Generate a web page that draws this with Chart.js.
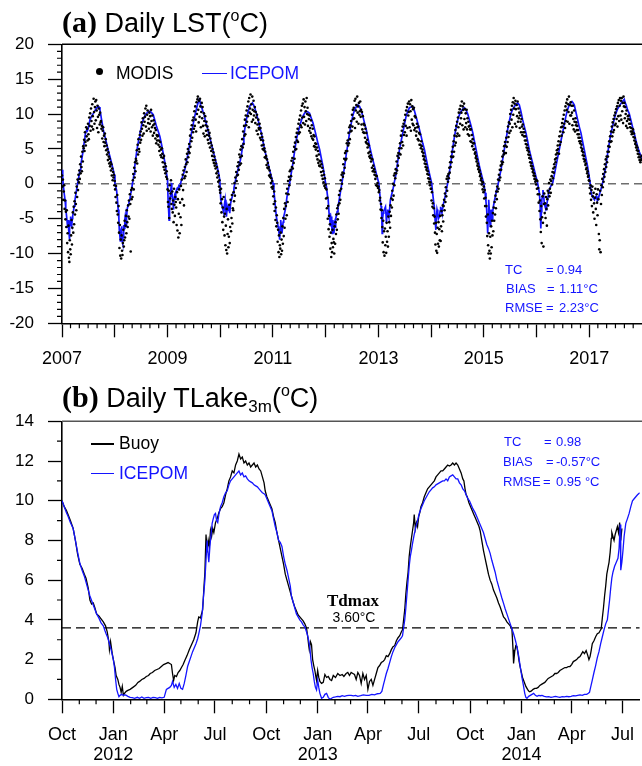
<!DOCTYPE html>
<html>
<head>
<meta charset="utf-8">
<script src="https://cdn.jsdelivr.net/npm/chart.js@4.4.1/dist/chart.umd.min.js"></script>
<style>
html, body { margin: 0; padding: 0; background: #fff; overflow: hidden; }
#page { position: relative; width: 642px; height: 766px; overflow: hidden; font-family: "Liberation Sans", Arial, Helvetica, sans-serif; }
.box { position: absolute; left: 0; width: 646px; }
.txt { position: absolute; white-space: nowrap; line-height: 1; color: #000; z-index: 2; }
.blue { color: #1414ff; }
.title { font-size: 27px; line-height: 30px; }
.title b { font-family: "Liberation Serif", "Times New Roman", serif; font-size: 30px; }
.deg { font-size: 16px; position: relative; top: -11px; }
.sub { font-size: 17px; position: relative; top: 5px; }
.leg { font-size: 17.5px; }
.st { font-size: 13px; }
.mark { position: absolute; z-index: 2; }
</style>
</head>
<body>
<div id="page">
  <div class="box" style="top:0;height:380px"><canvas id="lstChart" width="646" height="380"></canvas></div>
  <div class="box" style="top:380px;height:386px"><canvas id="lakeChart" width="646" height="386"></canvas></div>

  <!-- panel (a) texts -->
  <div class="txt title" style="left:62px;top:7px"><b>(a)</b> Daily LST(<span class="deg">o</span>C)</div>
  <div class="mark" style="left:96px;top:68px;width:7px;height:7px;border-radius:50%;background:#000"></div>
  <div class="txt leg" style="left:116px;top:64.5px">MODIS</div>
  <div class="mark" style="left:202px;top:72.5px;width:25px;height:1.5px;background:#1414ff"></div>
  <div class="txt leg blue" style="left:230px;top:64.5px">ICEPOM</div>

  <div class="txt st blue" style="left:505px;top:262.6px">TC</div>
  <div class="txt st blue" style="left:546px;top:262.6px">=</div>
  <div class="txt st blue" style="left:557px;top:262.6px">0.94</div>
  <div class="txt st blue" style="left:506px;top:281.9px">BIAS</div>
  <div class="txt st blue" style="left:547px;top:281.9px">=</div>
  <div class="txt st blue" style="left:559px;top:281.9px">1.11°C</div>
  <div class="txt st blue" style="left:505px;top:301.1px">RMSE</div>
  <div class="txt st blue" style="left:546px;top:301.1px">=</div>
  <div class="txt st blue" style="left:559px;top:301.1px">2.23°C</div>

  <!-- panel (b) texts -->
  <div class="txt title" style="left:62px;top:382px"><b>(b)</b> Daily TLake<span class="sub">3m</span>(<span class="deg">o</span>C)</div>
  <div class="mark" style="left:91px;top:443.3px;width:23px;height:1.5px;background:#000"></div>
  <div class="txt leg" style="left:119px;top:435.4px">Buoy</div>
  <div class="mark" style="left:91px;top:472.5px;width:23px;height:1.5px;background:#1414ff"></div>
  <div class="txt leg blue" style="left:119px;top:464.7px">ICEPOM</div>

  <div class="txt st blue" style="left:504px;top:435.3px">TC</div>
  <div class="txt st blue" style="left:544px;top:435.3px">=</div>
  <div class="txt st blue" style="left:556px;top:435.3px">0.98</div>
  <div class="txt st blue" style="left:503px;top:455.3px">BIAS</div>
  <div class="txt st blue" style="left:546px;top:455.3px">=</div>
  <div class="txt st blue" style="left:556px;top:455.3px">-0.57°C</div>
  <div class="txt st blue" style="left:503px;top:475.3px">RMSE</div>
  <div class="txt st blue" style="left:543px;top:475.3px">=</div>
  <div class="txt st blue" style="left:556px;top:475.3px">0.95 °C</div>

  <div class="txt" style="left:303px;width:100px;text-align:center;top:591.5px;font-family:'Liberation Serif','Times New Roman',serif;font-weight:bold;font-size:17px">Tdmax</div>
  <div class="txt" style="left:304px;width:100px;text-align:center;top:609.8px;font-size:14px">3.60°C</div>
</div>

<script>
// ---------- panel (a): daily lake surface temperature, 2007-2017 ----------
const lstYears = [2007, 2008, 2009, 2010, 2011, 2012, 2013, 2014, 2015, 2016, 2017];
const lstLabelYears = [2007, 2009, 2011, 2013, 2015, 2017];
const lstTicksY = [-20, -15, -10, -5, 0, 5, 10, 15, 20];
const lstZero = 0;

// ICEPOM simulated LST: [days since 2007-01-01, degC]
const icepomLst = [
  [0,2.0],[5,0.8],[10,-0.4],[16,-1.5],[21,-2.3],[26,-3.5],[32,-4.7],[37,-5.8],[41,-6.3],[44,-5.2],[46,-6.6],[49,-7.2],[51,-8.0],[54,-6.0],[57,-5.4],[60,-4.7],[63,-5.9],[67,-6.1],[71,-5.0],[74,-4.6],[78,-4.2],[84,-3.2],[90,-2.3],[96,-1.5],[101,-0.9],[107,-0.1],[113,0.6],[119,1.3],[125,2.0],[130,2.8],[136,3.4],[142,4.2],[148,4.9],[154,6.0],[159,6.8],[165,7.4],[171,7.75],[176,7.6],[182,8.0],[188,8.6],[194,9.2],[205,9.7],[217,10.1],[228,10.5],[240,10.9],[246,11.0],[251,11.1],[257,11.0],[263,10.6],[268,10.0],[274,9.2],[280,8.5],[286,7.75],[297,6.8],[309,5.8],[320,4.8],[332,3.9],[343,3.0],[355,2.0],[362,1.3],
  [367,0.1],[372,-0.4],[378,-0.9],[384,-2.2],[389,-3.7],[394,-5.0],[397,-6.6],[401,-7.5],[404,-8.2],[406,-8.0],[409,-6.8],[412,-6.1],[415,-7.0],[418,-8.3],[420,-8.5],[423,-7.6],[426,-7.1],[429,-5.9],[432,-6.4],[435,-5.2],[438,-4.7],[441,-5.5],[444,-6.1],[447,-5.0],[451,-3.7],[458,-3.0],[464,-2.6],[470,-2.3],[476,-1.4],[482,-0.9],[487,-0.1],[493,0.6],[499,1.4],[504,2.5],[510,3.4],[516,4.4],[522,5.2],[528,5.9],[534,6.6],[540,7.3],[546,7.8],[552,8.5],[557,8.8],[563,9.2],[575,9.8],[586,10.1],[597,10.3],[609,10.4],[620,10.2],[632,9.9],[643,9.1],[655,8.2],[667,7.5],[678,6.8],[690,5.6],[701,4.4],[709,3.5],[717,2.5],[724,1.5],[731,0.6],
  [735,-2.3],[738,-3.5],[742,-5.2],[745,-3.8],[749,-1.8],[753,-1.0],[756,-0.4],[759,0.1],[762,-0.9],[766,-2.3],[769,-3.0],[772,-3.7],[775,-2.5],[779,-1.8],[783,-2.2],[788,-1.2],[793,-0.9],[799,-0.6],[805,-0.8],[810,-0.3],[816,-0.4],[822,0.1],[828,0.57],[835,1.0],[843,1.5],[851,2.0],[858,2.8],[866,3.6],[874,4.4],[882,5.4],[889,6.3],[897,7.3],[905,8.1],[912,8.9],[920,9.7],[929,10.5],[938,11.3],[944,11.7],[950,12.1],[955,11.9],[960,11.3],[968,10.9],[976,10.4],[982,10.1],[993,9.1],[1005,8.2],[1016,7.2],[1028,6.3],[1040,5.3],[1051,4.4],[1063,3.4],[1075,2.5],[1084,1.6],[1093,0.57],
  [1100,-2.3],[1105,-2.8],[1110,-3.3],[1115,-3.7],[1121,-4.2],[1125,-3.0],[1130,-2.3],[1135,-3.9],[1139,-4.7],[1145,-3.3],[1150,-3.8],[1156,-3.0],[1162,-4.2],[1168,-2.8],[1175,-2.2],[1180,-1.8],[1185,-1.3],[1191,-0.6],[1198,0.1],[1205,0.8],[1213,1.5],[1224,2.5],[1236,3.4],[1245,4.5],[1254,5.8],[1260,6.8],[1266,7.8],[1272,8.6],[1277,9.2],[1289,10.3],[1300,11.1],[1310,11.4],[1319,11.6],[1327,11.3],[1335,10.9],[1346,10.1],[1358,9.2],[1369,8.2],[1381,7.3],[1392,6.1],[1404,4.9],[1415,3.9],[1427,3.0],[1438,2.0],[1450,1.05],[1462,0.1],
  [1468,-1.0],[1474,-2.3],[1479,-3.5],[1485,-4.7],[1491,-5.4],[1497,-6.1],[1502,-6.8],[1506,-7.5],[1508,-8.0],[1511,-6.5],[1515,-5.2],[1519,-6.0],[1524,-7.1],[1528,-6.2],[1532,-5.5],[1536,-4.7],[1542,-4.2],[1547,-3.7],[1553,-2.8],[1559,-1.8],[1568,-0.9],[1577,0.1],[1588,1.5],[1600,3.0],[1611,4.6],[1623,6.3],[1635,7.3],[1646,8.2],[1657,9.0],[1669,9.7],[1680,10.1],[1692,10.4],[1703,10.3],[1715,10.1],[1727,9.4],[1739,8.7],[1750,7.8],[1762,6.8],[1773,5.8],[1785,4.9],[1796,3.7],[1808,2.5],[1817,1.3],[1826,0.1],
  [1832,-0.4],[1838,-1.5],[1844,-2.3],[1850,-4.2],[1855,-5.0],[1860,-6.1],[1864,-5.2],[1867,-4.7],[1870,-6.0],[1872,-7.1],[1876,-5.2],[1880,-6.4],[1884,-7.1],[1888,-5.8],[1892,-6.2],[1896,-5.0],[1900,-4.7],[1906,-4.0],[1912,-3.3],[1918,-2.6],[1924,-1.8],[1935,-0.4],[1946,1.0],[1958,2.5],[1969,4.2],[1981,5.8],[1992,7.3],[2004,8.7],[2015,9.8],[2027,10.6],[2038,11.0],[2050,11.3],[2061,11.1],[2073,10.5],[2084,9.7],[2096,8.7],[2108,7.75],[2119,6.6],[2131,5.4],[2142,4.4],[2154,3.4],[2165,2.5],[2177,1.5],[2187,0.7],[2195,0.1],
  [2201,-1.3],[2206,-2.5],[2210,-3.2],[2214,-3.7],[2218,-7.1],[2221,-5.0],[2225,-4.2],[2229,-3.9],[2233,-3.7],[2237,-3.5],[2241,-3.3],[2245,-4.5],[2248,-5.6],[2252,-4.2],[2256,-3.7],[2260,-4.3],[2264,-4.7],[2269,-3.8],[2275,-2.3],[2283,-1.6],[2292,-0.86],[2303,0.3],[2315,1.5],[2326,3.2],[2338,4.9],[2349,6.1],[2361,7.3],[2372,8.5],[2384,9.7],[2395,10.4],[2407,10.9],[2418,11.0],[2430,11.1],[2441,10.5],[2453,9.6],[2465,8.7],[2476,7.8],[2488,6.8],[2499,5.8],[2511,4.9],[2522,3.7],[2534,2.5],[2547,1.3],[2561,0.1],
  [2567,-1.2],[2573,-2.3],[2579,-3.3],[2585,-5.2],[2590,-6.6],[2594,-4.8],[2598,-3.7],[2603,-4.2],[2608,-5.0],[2615,-4.7],[2619,-3.9],[2623,-3.3],[2627,-3.8],[2632,-4.2],[2637,-3.5],[2643,-2.8],[2650,-2.3],[2661,-1.0],[2672,0.1],[2684,1.7],[2696,3.4],[2707,5.1],[2719,6.8],[2730,8.0],[2742,9.2],[2753,9.9],[2765,10.4],[2776,10.7],[2788,10.9],[2799,10.6],[2811,10.0],[2822,9.2],[2834,8.3],[2846,7.3],[2857,6.1],[2869,4.9],[2880,3.7],[2892,2.5],[2904,1.5],[2915,0.57],[2925,-0.3],
  [2931,-1.3],[2937,-2.5],[2942,-3.7],[2946,-5.5],[2949,-7.1],[2952,-5.0],[2956,-2.3],[2960,-3.8],[2963,-5.2],[2966,-6.1],[2970,-4.8],[2973,-3.7],[2977,-4.5],[2980,-5.2],[2984,-4.0],[2988,-3.3],[2995,-2.5],[3002,-1.8],[3010,-1.0],[3018,-0.4],[3029,0.8],[3041,2.0],[3052,3.4],[3064,4.9],[3076,6.3],[3087,7.75],[3099,9.0],[3111,10.1],[3122,10.7],[3134,11.1],[3145,11.4],[3157,11.6],[3168,11.3],[3180,10.3],[3191,9.2],[3203,8.2],[3214,7.3],[3226,6.1],[3237,4.9],[3249,3.9],[3260,3.0],[3272,2.0],[3283,1.05],[3290,0.5],
  [3295,0.1],[3301,-0.6],[3307,-1.3],[3312,-2.8],[3316,-5.0],[3318,-6.4],[3321,-4.0],[3324,-2.3],[3328,-1.8],[3332,-0.9],[3336,-1.5],[3341,-2.8],[3346,-3.2],[3353,-3.7],[3358,-3.0],[3364,-2.3],[3370,-1.5],[3376,-0.86],[3387,-0.3],[3399,0.1],[3410,1.2],[3422,2.5],[3433,3.7],[3445,4.9],[3456,6.1],[3468,7.3],[3479,8.5],[3491,9.7],[3502,10.6],[3514,11.3],[3524,11.6],[3533,11.8],[3541,11.6],[3549,11.3],[3560,10.3],[3572,9.2],[3583,8.2],[3595,7.3],[3606,6.1],[3618,4.9],[3629,3.7],[3641,2.5],[3650,1.3],[3659,0.1],
  [3666,-1.3],[3673,-1.8],[3680,-2.0],[3689,-2.3],[3695,-1.9],[3700,-1.8],[3706,-2.2],[3712,-2.3],[3717,-2.0],[3722,-1.6],[3733,-0.86],[3745,0.1],[3756,1.3],[3768,2.5],[3779,4.2],[3791,5.8],[3802,7.1],[3814,8.2],[3825,9.2],[3837,10.1],[3848,10.7],[3860,11.1],[3872,11.5],[3883,11.8],[3895,12.1],[3902,11.6],[3910,11.2],[3918,10.6],[3929,10.1],[3941,9.1],[3952,8.2],[3964,7.3],[3975,6.3],[3987,5.4],[3999,4.6],[4012,3.9],[4018,3.6]
];

// MODIS LST, one value every 3 days from 1 January of each year (degC)
const modis2007 = [
  1.2,-0.4,0.6,-2.3,-1.1,-0.2,-3.6,-2.4,-5.1,-4.0,
  -6.2,-3.8,-8.5,-7.1,-9.8,-6.0,-10.6,-11.2,-8.1,-9.4,
  -10.1,-7.4,-5.2,-8.7,-6.3,-4.1,-7.0,-3.3,-5.8,-2.5,
  -4.4,-1.3,-2.9,-3.8,-0.4,-1.9,0.6,-0.9,1.3,0.2,
  1.9,0.7,2.8,1.5,3.9,2.4,1.8,4.6,3.2,5.4,
  5.1,6.3,4.7,7.4,6.0,5.5,8.1,6.8,7.9,6.2,
  8.6,7.1,6.4,9.5,8.3,10.1,7.6,10.8,9.0,8.2,
  11.4,9.7,7.8,12.2,10.3,8.6,11.0,11.8,9.1,12.0,
  10.5,8.0,11.2,9.6,7.4,10.8,9.9,8.5,10.2,8.8,
  9.0,7.9,8.3,6.5,7.6,8.1,6.0,6.9,5.4,7.2,
  5.9,6.4,4.8,5.5,4.2,5.0,3.4,4.5,3.9,2.9,
  3.6,2.5,3.1,1.9,2.8,1.2,2.2,0.5,1.7,0.9,
  1.3,-0.2
];
const modis2008 = [
  0.4,-0.8,-1.9,-0.3,-2.7,-3.9,-1.6,-4.4,-5.6,-3.2,
  -7.0,-9.2,-5.9,-10.3,-8.0,-10.7,-7.4,-9.6,-10.2,-8.5,
  -6.6,-9.0,-8.1,-5.3,-7.7,-6.0,-4.6,-7.1,-3.8,-5.5,
  -6.2,-3.1,-4.7,-2.4,-5.0,-1.5,-2.9,-9.7,-0.9,-2.2,
  -0.6,-1.9,0.5,1.4,-0.8,2.3,0.9,3.1,1.8,3.6,
  3.3,4.8,2.9,5.6,4.2,6.4,5.0,4.6,7.0,5.9,
  7.5,6.3,8.8,7.9,6.9,9.4,8.4,7.2,10.1,8.9,
  9.6,10.8,8.2,11.2,7.6,9.9,10.5,8.7,9.3,7.9,
  10.2,8.6,9.7,7.5,10.6,9.0,8.1,9.8,6.9,8.4,
  9.1,7.3,8.6,8.0,6.5,7.7,5.8,7.0,6.2,6.8,
  6.9,5.6,6.2,4.7,5.3,6.0,4.1,4.9,3.8,5.1,
  4.3,3.1,3.7,2.4,4.0,2.0,2.9,1.5,2.5,1.0,
  1.8,0.7
];
const modis2009 = [
  -0.8,-2.6,-3.3,-1.0,-4.9,-0.2,-2.1,-1.4,0.5,-2.9,
  -3.6,-1.1,-4.1,-2.4,-5.5,-0.7,-3.0,-4.6,-1.9,-2.6,
  -3.4,-5.9,-1.2,-6.7,-2.2,-7.7,-4.3,-0.8,-7.1,-2.7,
  -4.8,-0.3,-5.9,0.6,-2.2,1.3,-0.9,1.9,-3.1,0.8,
  2.4,1.1,3.5,2.8,1.7,4.3,3.1,5.0,3.8,4.6,
  5.7,4.4,6.9,5.3,7.8,6.1,8.4,6.6,9.1,7.4,
  9.5,7.9,10.4,8.3,11.1,9.2,7.5,11.7,10.0,12.1,
  12.5,10.6,8.8,11.9,9.6,12.2,11.1,8.1,10.3,11.6,
  9.4,11.0,8.3,7.2,10.1,9.0,6.8,9.7,8.4,7.6,
  8.9,7.0,8.2,6.3,7.7,5.8,6.9,7.3,5.2,6.5,
  5.9,4.7,5.5,4.0,5.0,3.4,4.5,3.0,3.9,2.6,
  3.4,2.2,2.9,1.5,2.4,0.9,1.8,0.3,1.2,-0.4,
  0.5,-0.9
];
const modis2010 = [
  -1.3,-2.8,-0.7,-4.1,-2.2,-5.5,-3.4,-6.6,-1.9,-4.7,
  -7.4,-4.3,-8.8,-6.0,-9.5,-3.6,-10.0,-7.2,-5.1,-9.1,
  -7.6,-3.0,-8.5,-6.2,-2.3,-6.8,-4.9,-1.6,-5.7,-3.5,
  -3.8,-1.2,-2.5,0.1,-1.7,0.9,-0.6,1.7,0.4,1.2,
  2.5,1.3,3.1,2.0,4.2,2.7,3.8,4.9,2.9,5.4,
  4.0,6.4,5.2,7.5,5.7,8.3,6.9,9.2,7.1,9.8,
  8.4,10.5,8.9,11.1,9.7,11.8,8.1,12.3,10.2,10.8,
  12.8,10.0,11.4,8.9,12.5,10.6,9.2,11.9,9.8,10.4,
  11.0,8.7,10.3,9.5,7.6,9.9,8.5,7.1,9.2,8.0,
  7.8,8.6,6.6,8.0,6.3,7.2,5.5,6.7,5.0,6.2,
  5.6,4.8,5.1,3.8,4.6,3.7,4.0,2.7,3.5,2.3,
  3.0,2.2,2.4,1.2,1.9,1.0,1.3,0.1,0.8,-0.5,
  0.4,-0.7
];
const modis2011 = [
  -0.4,-1.8,-2.9,-1.1,-3.9,-2.5,-5.2,-3.4,-6.1,-4.5,
  -5.6,-8.3,-6.6,-9.8,-7.4,-10.5,-8.8,-9.3,-7.0,-10.1,
  -8.0,-9.6,-6.1,-8.6,-4.9,-7.5,-3.6,-6.3,-2.8,-5.0,
  -3.2,-1.4,-4.5,-0.7,-2.6,0.4,-1.5,1.0,-0.2,1.8,
  0.6,2.0,1.1,3.3,2.4,3.7,2.2,4.6,3.0,5.3,
  3.6,5.9,4.9,6.7,5.0,7.3,6.2,7.9,6.0,8.6,
  7.2,9.2,7.4,9.8,8.4,10.5,8.1,11.2,9.5,11.5,
  8.7,12.1,9.6,11.0,8.5,11.8,10.4,9.0,12.3,10.0,
  10.9,8.3,9.9,9.3,7.6,9.8,8.0,7.3,9.1,6.8,
  8.4,6.5,7.9,6.3,7.0,5.4,6.8,5.3,5.8,4.9,
  5.7,4.0,5.2,3.5,4.7,3.0,4.2,2.6,3.3,2.5,
  3.2,1.7,2.8,1.2,2.3,0.7,1.8,0.2,1.3,-0.3,
  0.8,-0.6
];
const modis2012 = [
  -0.1,-2.1,-0.8,-3.5,-2.0,-5.0,-3.2,-6.5,-4.6,-7.6,
  -5.8,-9.3,-7.0,-10.5,-8.5,-9.8,-6.6,-9.1,-7.9,-8.4,
  -10.0,-6.1,-8.6,-5.5,-7.2,-4.4,-6.6,-3.5,-5.1,-3.1,
  -4.3,-1.6,-2.8,-1.0,-2.3,0.5,-0.7,1.3,0.0,1.6,
  1.0,2.8,1.5,3.6,2.3,4.4,3.4,4.7,3.6,5.8,
  4.7,6.2,5.5,7.3,5.8,8.1,6.4,8.4,7.5,9.0,
  7.6,9.9,8.2,10.6,9.3,10.9,9.4,11.9,8.0,12.2,
  10.5,11.3,8.9,12.5,10.2,11.1,8.6,11.6,9.9,10.4,
  11.8,9.6,10.6,8.5,10.3,7.8,9.7,7.4,8.6,7.3,
  8.4,6.6,7.9,6.0,7.3,5.8,6.3,5.2,5.7,4.4,
  5.5,3.9,4.6,3.7,4.1,3.2,3.6,2.3,3.5,1.8,
  2.6,1.8,2.1,1.3,1.7,0.7,1.2,-0.2,1.1,-0.3,
  0.1,-0.6
];
const modis2013 = [
  -0.4,-1.2,-0.9,-2.4,-2.0,-3.7,-2.9,-4.9,-3.8,-6.2,
  -8.4,-5.3,-9.8,-6.8,-10.3,-6.4,-8.8,-7.6,-9.9,-5.6,
  -8.3,-6.8,-9.0,-4.7,-7.6,-5.5,-4.0,-6.3,-3.1,-4.6,
  -2.1,-3.4,-1.0,-2.3,0.0,-1.7,1.2,-0.2,1.5,0.8,
  2.1,1.5,3.2,1.9,4.0,2.6,4.4,3.7,5.1,4.3,
  5.8,4.2,6.9,5.1,7.6,6.0,8.2,5.5,8.6,7.0,
  9.1,7.4,9.9,8.3,10.5,6.9,11.0,8.0,11.5,9.8,
  10.3,11.8,8.1,11.4,10.4,7.6,12.0,9.2,11.1,8.6,
  10.7,8.4,10.9,7.7,9.7,8.0,9.5,6.9,7.5,8.6,
  8.1,6.4,8.2,6.2,7.3,5.6,7.1,5.6,5.1,6.1,
  5.4,4.6,4.9,4.0,4.4,3.5,3.9,2.9,3.3,2.4,
  2.8,2.0,2.3,1.4,1.8,0.8,1.3,0.3,0.7,-0.2,
  0.2,-0.7
];
const modis2014 = [
  -0.7,-2.4,-1.2,-3.3,-2.8,-4.5,-3.5,-5.7,-4.7,-7.0,
  -8.7,-5.6,-9.6,-7.2,-9.9,-6.3,-8.6,-5.5,-9.0,-6.5,
  -8.1,-4.6,-8.2,-6.1,-3.9,-6.8,-4.5,-3.1,-5.4,-3.2,
  -2.3,-3.8,-1.4,-2.6,-0.5,-1.8,0.7,-1.0,1.1,0.3,
  1.4,0.8,2.3,1.6,3.1,2.4,3.9,3.1,4.6,3.8,
  5.3,3.9,6.1,4.6,6.9,5.5,7.7,5.9,8.3,6.8,
  8.9,7.2,9.5,8.1,10.2,6.9,10.7,8.6,11.2,9.4,
  10.2,11.8,8.4,11.1,10.6,7.8,11.5,9.3,10.7,8.1,
  10.1,8.7,10.6,7.8,9.4,7.1,8.9,8.2,6.9,8.3,
  7.8,6.1,7.8,6.0,7.0,5.4,6.4,5.8,4.9,5.8,
  5.0,4.3,4.5,3.7,4.0,3.2,3.5,2.6,2.9,2.1,
  2.4,1.7,1.9,1.1,1.4,0.5,0.8,-0.1,0.3,-0.8,
  0.2,-1.2
];
const modis2015 = [
  -0.4,-2.1,-0.9,-3.2,-2.0,-4.7,-3.2,-5.6,-7.5,-4.4,
  -8.8,-10.0,-7.1,-9.6,-10.7,-7.6,-10.0,-6.1,-9.1,-5.3,
  -7.4,-4.2,-6.8,-3.4,-5.3,-2.6,-4.4,-1.7,-3.5,-1.1,
  -2.2,-0.4,-1.1,0.6,-0.7,1.3,0.5,2.0,0.9,2.6,
  2.0,3.2,2.8,3.9,3.1,4.7,4.2,5.4,4.4,6.0,
  5.5,4.4,6.6,5.3,7.5,6.0,8.2,6.7,8.8,7.3,
  8.6,10.0,7.6,10.6,9.2,11.2,8.1,11.7,9.9,12.3,
  10.8,11.5,8.6,11.9,10.7,8.2,11.3,9.7,11.8,8.9,
  10.8,9.4,10.2,8.0,9.8,8.9,7.4,9.3,8.2,7.0,
  8.5,7.4,7.9,6.8,7.4,6.2,6.8,5.7,6.2,5.2,
  5.6,4.8,5.1,4.2,4.6,3.7,4.1,3.1,3.6,2.6,
  3.0,2.2,2.5,1.7,2.0,1.2,1.5,0.7,1.1,0.3,
  0.6,-0.1
];
const modis2016 = [
  0.5,-0.7,0.4,-1.5,-0.6,-2.7,-1.5,-3.9,-2.4,-5.1,
  -6.9,-3.2,-8.5,-4.8,-1.8,-5.6,-9.0,-2.9,-1.4,-4.2,
  -2.8,-4.9,-1.9,-3.6,-6.0,-2.2,-1.0,-3.1,-1.3,0.1,
  -1.8,-0.7,0.6,-1.3,0.4,1.1,-0.1,1.7,0.8,2.2,
  1.6,2.8,2.4,3.5,3.1,4.2,3.7,4.8,4.4,5.5,
  5.0,6.1,4.3,6.8,5.6,7.5,6.0,8.1,6.9,8.7,
  8.2,9.3,7.4,9.9,8.6,10.5,8.0,11.1,9.0,11.6,
  10.6,12.1,8.9,11.4,10.3,12.5,8.6,11.3,9.8,11.7,
  9.8,11.2,10.2,8.4,11.2,9.3,7.8,10.5,8.9,7.5,
  9.4,8.4,8.8,7.7,8.3,7.1,7.7,6.6,7.1,6.1,
  6.6,5.8,6.1,5.2,5.6,4.7,5.0,4.1,4.5,3.6,
  4.0,3.2,3.4,2.7,2.9,2.1,2.3,1.5,1.8,1.0,
  1.2,0.5
];
const modis2017 = [
  0.4,-0.6,-1.4,-0.2,-2.3,-0.9,-3.2,-0.4,-1.8,-4.1,
  -1.3,-2.8,-5.0,-2.0,-0.7,-3.6,-5.9,-1.5,-2.7,-4.5,
  -0.8,-2.2,-7.2,-9.4,-8.1,-1.0,-9.8,-2.9,-0.2,-1.6,
  0.7,-0.5,1.4,0.3,2.1,1.0,2.8,1.7,3.5,2.4,
  3.9,3.1,4.6,3.9,5.4,4.6,6.1,5.3,6.8,6.0,
  7.5,6.1,8.2,6.8,8.8,7.4,9.3,7.7,9.8,8.4,
  10.2,8.6,10.7,9.3,11.1,8.2,11.6,9.7,12.0,9.0,
  11.2,12.3,9.8,11.9,9.2,12.3,10.4,11.6,8.7,12.5,
  11.1,11.6,9.4,11.0,10.0,8.3,10.5,9.0,8.0,9.7,
  9.3,9.8,8.6,9.2,8.1,8.6,7.5,8.0,7.1,7.5,
  7.3,7.8,6.7,7.2,6.2,6.6,5.7,6.0,5.2,5.5,
  4.8,5.2,4.3,4.7,3.8,4.2,3.4,3.8,3.1,3.4,
  3.5,4.0
];
const modisByYear = [modis2007, modis2008, modis2009, modis2010, modis2011, modis2012,
                     modis2013, modis2014, modis2015, modis2016, modis2017];
const modisStepDays = 3;

// ---------- panel (b): daily lake temperature at 3 m, Oct 2011 - Jul 2014 ----------
const lakeTicksY = [0, 2, 4, 6, 8, 10, 12, 14];
const lakeTickLabels = ['Oct', ['Jan', '2012'], 'Apr', 'Jul', 'Oct', ['Jan', '2013'], 'Apr', 'Jul',
                        'Oct', ['Jan', '2014'], 'Apr', 'Jul'];
const tdmax = 3.6;

// buoy observations: [days since 2011-10-01, degC]
const buoy = [
  [0,10.0],[4,9.7],[8,9.5],[11,9.3],[15,9.0],[20,8.6],[24,8.0],[28,7.3],[32,6.8],[36,6.6],[40,6.3],[43,6.1],[47,5.6],[50,5.0],[53,4.8],[56,4.85],[59,4.6],[62,4.3],[66,4.2],[70,4.05],[74,3.9],[78,3.7],[81,3.4],[84,2.9],[85,2.5],[87,2.9],[90,2.3],[92,2.0],[95,1.6],[97,1.2],[100,1.0],[102,0.75],[104,0.6],[106,0.35],[108,0.65],[110,0.2],[112,0.3],[115,0.4],[118,0.45],[122,0.5],[127,0.6],[132,0.7],[136,0.85],[139,0.9],[143,1.0],[147,1.05],[151,1.15],[155,1.2],[158,1.3],[162,1.35],[166,1.45],[170,1.5],[174,1.55],[178,1.65],[182,1.75],[186,1.8],[190,1.85],[193,1.8],[196,1.75],[198,1.3],[200,0.95],[202,1.2],[205,1.15],[208,1.35],[211,1.45],[214,1.6],[217,1.75],[220,1.95],[224,2.2],[228,2.5],[232,2.75],[236,3.0],[240,3.35],[243,3.9],[245,4.15],[248,4.1],[250,4.3],[252,4.5],[254,5.5],[256,6.4],[258,8.3],[260,7.4],[262,8.0],[264,7.7],[266,8.5],[268,8.2],[270,8.6],[272,8.4],[275,8.9],[278,9.1],[281,9.4],[284,9.6],[287,9.7],[290,9.9],[293,10.3],[296,10.6],[299,11.0],[302,11.2],[305,11.5],[308,11.4],[311,11.8],[314,12.0],[317,12.35],[320,12.1],[323,12.2],[326,11.9],[329,12.0],[332,11.8],[335,11.9],[338,11.7],[341,11.8],[344,11.9],[347,11.7],[350,11.8],[353,11.6],[356,11.5],[359,11.2],[362,10.9],[364,10.5],[367,10.2],[370,10.0],[373,9.8],[376,9.6],[379,9.2],[382,8.9],[385,8.4],[388,8.0],[391,7.6],[394,7.2],[397,6.8],[400,6.3],[403,6.0],[406,5.7],[409,5.4],[411,5.2],[414,4.9],[417,4.65],[420,4.45],[423,4.25],[426,4.15],[429,4.05],[432,3.95],[435,3.8],[438,3.6],[440,3.2],[442,2.7],[443,2.5],[445,2.9],[447,2.75],[449,2.0],[451,1.7],[453,1.45],[455,1.1],[456,0.95],[458,1.45],[460,1.1],[462,0.9],[465,0.8],[468,0.85],[471,1.25],[474,1.1],[477,1.15],[480,1.0],[483,0.95],[486,1.2],[490,1.1],[494,1.3],[498,1.2],[502,1.25],[505,1.15],[509,1.3],[512,1.35],[515,1.2],[518,1.35],[521,1.3],[524,1.25],[527,1.0],[530,1.35],[533,1.2],[536,0.8],[539,1.3],[542,1.0],[545,1.2],[548,0.5],[551,0.9],[554,1.0],[557,0.7],[560,1.0],[563,1.3],[566,1.6],[569,1.7],[572,1.85],[575,1.9],[578,2.0],[581,2.2],[584,2.15],[587,2.3],[590,2.5],[593,2.65],[596,2.7],[599,2.95],[602,3.1],[605,3.2],[608,3.4],[610,3.5],[612,4.0],[614,4.5],[616,5.3],[618,5.9],[620,6.4],[622,7.2],[624,7.7],[626,8.1],[628,8.5],[630,8.9],[631,9.3],[633,8.6],[635,8.9],[637,8.7],[639,9.2],[641,9.4],[643,9.7],[646,9.9],[649,10.2],[652,10.4],[655,10.6],[658,10.7],[661,10.8],[664,10.9],[667,11.0],[670,11.2],[673,11.3],[676,11.4],[679,11.5],[682,11.5],[685,11.6],[688,11.7],[691,11.8],[694,11.75],[697,11.8],[700,11.9],[703,11.8],[706,11.9],[709,11.8],[712,11.6],[715,11.4],[718,11.1],[720,11.0],[722,10.6],[724,10.3],[726,10.2],[729,9.9],[732,9.7],[735,9.5],[738,9.3],[741,9.1],[744,8.9],[747,8.7],[749,8.5],[752,8.0],[755,7.5],[758,7.1],[761,6.7],[764,6.3],[767,6.0],[770,5.8],[773,5.5],[776,5.3],[779,5.1],[782,4.85],[785,4.65],[788,4.4],[791,4.15],[794,4.05],[797,3.9],[800,3.8],[803,3.7],[806,3.55],[808,2.5],[809,1.8],[811,2.4],[813,2.7],[815,2.65],[817,2.3],[819,1.9],[821,1.6],[823,1.35],[825,1.1],[827,0.95],[829,0.8],[831,0.65],[834,0.5],[836,0.42],[838,0.38],[841,0.42],[844,0.5],[847,0.55],[850,0.55],[853,0.6],[856,0.7],[859,0.75],[862,0.8],[865,0.85],[868,0.95],[871,1.05],[874,1.1],[877,1.15],[880,1.2],[883,1.3],[886,1.3],[889,1.35],[892,1.45],[895,1.5],[898,1.55],[901,1.6],[904,1.6],[907,1.65],[910,1.65],[913,1.75],[916,1.9],[919,1.95],[922,2.0],[925,2.1],[928,2.15],[931,2.3],[933,2.4],[936,2.3],[939,2.45],[942,2.2],[944,2.0],[946,2.15],[948,2.45],[950,2.8],[953,2.95],[956,3.15],[959,3.3],[962,3.35],[964,3.45],[966,3.55],[968,4.1],[970,4.6],[972,5.2],[974,5.7],[976,6.3],[978,6.6],[980,6.9],[982,7.4],[984,8.1],[985,8.4],[987,8.2],[989,8.0],[991,8.3],[993,8.5],[995,8.7],[997,8.4],[999,8.9],[1001,8.0],[1003,8.6]
];

// ICEPOM simulation at 3 m: [days since 2011-10-01, degC]
const icepomLake = [
  [0,10.0],[4,9.7],[8,9.4],[11,9.2],[15,8.9],[20,8.6],[24,8.0],[28,7.4],[32,6.85],[36,6.5],[40,6.2],[43,5.9],[47,5.5],[50,5.2],[54,4.9],[58,4.6],[62,4.3],[66,4.1],[70,3.85],[74,3.7],[77,3.45],[79,3.3],[82,3.1],[85,2.8],[88,2.5],[90,2.25],[92,2.0],[94,1.6],[96,1.0],[98,0.5],[100,0.3],[102,0.13],[104,0.2],[107,0.25],[110,0.2],[114,0.22],[118,0.15],[122,0.1],[126,0.08],[130,0.05],[135,0.1],[139,0.05],[143,0.12],[147,0.05],[151,0.08],[155,0.1],[159,0.05],[163,0.1],[167,0.08],[171,0.05],[175,0.1],[179,0.07],[183,0.1],[185,0.3],[187,0.5],[190,0.55],[193,0.6],[196,0.7],[198,0.9],[201,0.6],[204,0.75],[207,0.55],[210,0.8],[213,0.55],[216,0.5],[219,0.8],[222,1.2],[225,1.65],[228,1.9],[231,2.15],[234,2.4],[237,2.6],[240,2.8],[243,3.05],[245,3.3],[248,3.7],[251,4.3],[253,5.0],[256,6.0],[258,7.0],[260,8.0],[262,7.2],[263,6.9],[265,7.7],[267,8.3],[269,8.86],[271,9.1],[273,9.3],[275,9.36],[277,9.0],[279,8.9],[281,9.3],[284,9.7],[287,9.9],[290,10.2],[293,10.4],[296,10.5],[299,10.8],[302,11.0],[305,11.1],[308,11.2],[311,11.3],[314,11.4],[317,11.5],[320,11.3],[323,11.4],[326,11.2],[329,11.25],[332,11.1],[335,11.0],[338,10.95],[341,10.9],[344,10.8],[347,10.75],[350,10.7],[353,10.6],[356,10.5],[359,10.4],[362,10.35],[364,10.3],[367,10.1],[370,9.9],[373,9.7],[376,9.5],[379,9.1],[382,8.7],[385,8.4],[388,8.0],[391,7.9],[394,7.7],[397,7.2],[400,6.8],[403,6.5],[406,6.1],[409,5.7],[411,5.2],[414,4.9],[417,4.6],[420,4.3],[423,4.15],[426,4.0],[429,3.9],[432,3.75],[435,3.65],[438,3.4],[441,3.1],[444,2.6],[446,2.0],[448,1.6],[450,1.3],[452,0.9],[454,0.6],[456,0.47],[458,0.97],[460,0.6],[462,0.3],[465,0.05],[468,0.1],[471,0.25],[474,0.3],[477,0.1],[480,0.0],[483,0.05],[486,0.1],[490,0.12],[494,0.15],[498,0.13],[502,0.18],[506,0.15],[510,0.18],[514,0.2],[518,0.2],[522,0.17],[526,0.2],[530,0.15],[535,0.18],[540,0.22],[545,0.2],[550,0.2],[555,0.25],[560,0.22],[565,0.28],[570,0.3],[573,0.4],[576,0.75],[578,0.97],[581,1.3],[584,1.55],[587,1.85],[590,2.15],[593,2.4],[596,2.6],[599,2.75],[602,2.9],[605,3.0],[608,3.1],[610,3.2],[612,3.6],[614,4.0],[616,4.6],[618,5.3],[620,6.0],[622,6.7],[624,7.2],[626,7.5],[628,7.85],[631,8.3],[634,8.7],[637,9.0],[640,9.36],[643,9.6],[646,9.8],[649,10.0],[652,10.15],[655,10.3],[658,10.45],[661,10.55],[664,10.65],[667,10.7],[670,10.8],[673,10.85],[676,10.9],[679,10.95],[682,11.0],[685,11.0],[688,11.1],[691,11.0],[694,11.2],[697,11.25],[700,11.3],[703,11.2],[706,11.1],[709,11.1],[712,10.9],[715,10.8],[718,10.6],[721,10.5],[724,10.3],[727,10.1],[730,10.0],[733,9.8],[736,9.6],[740,9.4],[743,9.2],[746,9.0],[749,8.8],[752,8.6],[755,8.4],[758,8.1],[761,7.8],[764,7.6],[767,7.35],[770,7.0],[773,6.7],[776,6.4],[779,6.0],[782,5.7],[785,5.4],[788,5.1],[791,4.83],[794,4.55],[797,4.3],[800,4.05],[803,3.8],[806,3.55],[809,3.3],[812,3.0],[815,2.65],[818,2.2],[821,1.64],[824,1.1],[827,0.64],[829,0.3],[831,0.1],[833,0.05],[836,0.15],[839,0.2],[842,0.25],[845,0.3],[848,0.2],[851,0.15],[854,0.2],[857,0.18],[860,0.2],[864,0.15],[868,0.12],[872,0.13],[876,0.1],[880,0.12],[884,0.15],[888,0.12],[892,0.1],[896,0.13],[900,0.12],[904,0.15],[908,0.13],[912,0.15],[916,0.18],[920,0.17],[924,0.2],[928,0.22],[932,0.2],[936,0.25],[940,0.25],[943,0.3],[945,0.35],[947,0.6],[950,0.97],[953,1.35],[956,1.7],[959,2.1],[962,2.4],[965,2.8],[968,3.15],[971,3.5],[974,3.8],[977,4.0],[979,4.5],[981,5.0],[983,5.6],[985,6.1],[987,6.4],[990,6.7],[993,6.9],[996,7.1],[998,7.6],[1000,8.8],[1001,6.5],[1003,6.9],[1005,7.5],[1007,8.2],[1010,8.86],[1013,9.1],[1016,9.36],[1019,9.7],[1022,10.0],[1025,10.1],[1028,10.2],[1031,10.3],[1035,10.4]
];

// ---------- helpers ----------
const FONT = '"Liberation Sans", Arial, Helvetica, sans-serif';
const BLUE = '#1414ff';
Chart.defaults.font.family = FONT;
Chart.defaults.color = '#000';

const DAY = 864e5;
const lstStart = Date.UTC(2007, 0, 1);
const lakeStart = Date.UTC(2011, 9, 1);
const lstDay = (y, m) => (Date.UTC(y, m, 1) - lstStart) / DAY;
const lakeDay = (k) => (Date.UTC(2011, 9 + k, 1) - lakeStart) / DAY;   // k months after Oct 2011
const toXY = pairs => pairs.map(p => ({ x: p[0], y: p[1] }));

const lstMajor = lstYears.map(y => lstDay(y, 0));
const lstMinor = [];
lstYears.forEach(y => [2, 4, 6, 8, 10].forEach(m => lstMinor.push(lstDay(y, m))));
const lstMinorY = [];
for (let v = -19; v < 20; v++) if (v % 5 !== 0) lstMinorY.push(v);

const lakeMajor = [], lakeMinor = [];
for (let k = 0; k < 34; k++) (k % 3 === 0 ? lakeMajor : lakeMinor).push(lakeDay(k));
const lakeMinorY = [1, 3, 5, 7, 9, 11, 13];

const modisPoints = [];
modisByYear.forEach((vals, i) => {
  const start = lstDay(lstYears[i], 0);
  vals.forEach((v, j) => modisPoints.push({ x: start + j * modisStepDays, y: v }));
});

// top frame line and minor ticks
const frame = {
  id: 'frame',
  afterDraw(chart, args, o) {
    const { ctx, chartArea: a } = chart;
    const x = chart.scales.x, y = chart.scales.y;
    ctx.save();
    ctx.strokeStyle = o.topColor;
    ctx.lineWidth = 1.5;
    ctx.beginPath();
    ctx.moveTo(a.left, a.top);
    ctx.lineTo(a.right + 5, a.top);
    ctx.stroke();
    ctx.strokeStyle = '#000';
    ctx.lineWidth = 1.2;
    ctx.beginPath();
    o.minorX.forEach(v => { const p = x.getPixelForValue(v); ctx.moveTo(p, a.bottom); ctx.lineTo(p, a.bottom + 5); });
    o.minorY.forEach(v => { const p = y.getPixelForValue(v); ctx.moveTo(a.left, p); ctx.lineTo(a.left - 5, p); });
    ctx.stroke();
    ctx.restore();
  }
};

const axisGrid = { drawOnChartArea: false, drawTicks: true, tickLength: 14, tickColor: '#000', tickWidth: 1.3 };
const axisBorder = { display: true, color: '#000', width: 1.6 };

// ---------- chart (a) ----------
new Chart(document.getElementById('lstChart'), {
  type: 'line',
  data: {
    datasets: [
      { label: 'MODIS', data: modisPoints, showLine: false, pointRadius: 1.3, pointBackgroundColor: '#000',
        pointBorderWidth: 0, order: 0 },
      { label: 'ICEPOM', data: toXY(icepomLst), borderColor: BLUE, borderWidth: 1.7, pointRadius: 0, order: 1 },
      { label: 'zero', data: [{ x: 0, y: lstZero }, { x: lstDay(2018, 0), y: lstZero }], borderColor: '#6e6e6e',
        borderWidth: 1.4, borderDash: [8, 5], pointRadius: 0, order: 2 }
    ]
  },
  options: {
    responsive: false, animation: false, events: [],
    layout: { padding: { top: 44.3, right: 3.2, bottom: 0, left: 0 } },
    plugins: { legend: { display: false }, tooltip: { enabled: false },
               frame: { topColor: '#000', minorX: lstMinor, minorY: lstMinorY } },
    scales: {
      x: {
        type: 'linear', min: 0, max: lstDay(2018, 0),
        afterBuildTicks: s => { s.ticks = lstMajor.map(v => ({ value: v })); },
        afterFit: s => { s.height = 56.7; },
        grid: axisGrid, border: axisBorder,
        ticks: {
          autoSkip: false, maxRotation: 0, padding: 11, font: { size: 18 },
          callback: (v, i) => lstLabelYears.includes(lstYears[i]) ? String(lstYears[i]) : ''
        }
      },
      y: {
        min: -20, max: 20,
        afterBuildTicks: s => { s.ticks = lstTicksY.map(v => ({ value: v })); },
        afterFit: s => { s.width = 62; },
        grid: axisGrid, border: axisBorder,
        ticks: { padding: 14, font: { size: 17 } }
      }
    }
  },
  plugins: [frame]
});

// ---------- chart (b) ----------
new Chart(document.getElementById('lakeChart'), {
  type: 'line',
  data: {
    datasets: [
      { label: 'Buoy', data: toXY(buoy), borderColor: '#000', borderWidth: 1.3, pointRadius: 0, order: 1 },
      { label: 'ICEPOM', data: toXY(icepomLake), borderColor: BLUE, borderWidth: 1.3, pointRadius: 0, order: 0 },
      { label: 'Tdmax', data: [{ x: 0, y: tdmax }, { x: lakeDay(34), y: tdmax }], borderColor: '#000',
        borderWidth: 1.3, borderDash: [9, 5], pointRadius: 0, order: 2 }
    ]
  },
  options: {
    responsive: false, animation: false, events: [],
    layout: { padding: { top: 41.3, right: 2.1, bottom: 0, left: 0 } },
    plugins: { legend: { display: false }, tooltip: { enabled: false },
               frame: { topColor: '#555', minorX: lakeMinor, minorY: lakeMinorY } },
    scales: {
      x: {
        type: 'linear', min: 0, max: lakeDay(34),
        afterBuildTicks: s => { s.ticks = lakeMajor.map(v => ({ value: v })); },
        afterFit: s => { s.height = 66.7; },
        grid: axisGrid, border: axisBorder,
        ticks: {
          autoSkip: false, maxRotation: 0, padding: 12, font: { size: 18, lineHeight: 1.1 },
          callback: (v, i) => lakeTickLabels[i]
        }
      },
      y: {
        min: 0, max: 14,
        afterBuildTicks: s => { s.ticks = lakeTicksY.map(v => ({ value: v })); },
        afterFit: s => { s.width = 62; },
        grid: axisGrid, border: axisBorder,
        ticks: { padding: 14, font: { size: 17 } }
      }
    }
  },
  plugins: [frame]
});
</script>
</body>
</html>
